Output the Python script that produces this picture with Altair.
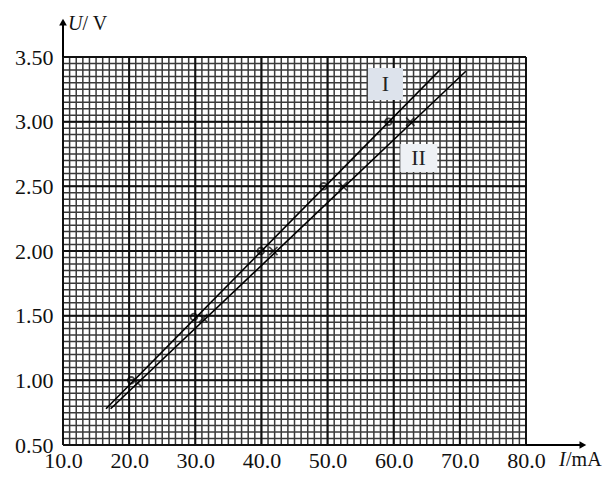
import altair as alt
import pandas as pd

# ---- data ----
x_ticks = [10.0, 20.0, 30.0, 40.0, 50.0, 60.0, 70.0, 80.0]
y_ticks = [0.50, 1.00, 1.50, 2.00, 2.50, 3.00, 3.50]
x_minor = [10 + i for i in range(71)]            # 1 mA grid
y_minor = [round(0.5 + 0.05 * i, 2) for i in range(61)]  # 0.05 V grid

I_x = [20.3, 29.8, 39.9, 49.4, 59.2]
I_y = [1.00, 1.49, 2.00, 2.50, 3.00]
II_x = [21.3, 31.2, 41.8, 52.3, 62.5]
II_y = [0.98, 1.48, 2.00, 2.50, 3.00]

lineI_x = [16.5, 67.0]
lineI_y = [0.78, 3.40]
lineII_x = [17.2, 70.9]
lineII_y = [0.78, 3.39]

# label boxes (I, II)
box_x1 = [56.1, 61.0]
box_x2 = [61.4, 66.6]
box_y1 = [3.415, 2.827]
box_y2 = [3.168, 2.611]
box_fill = ["#dde3ec", "#eef1f5"]
box_text = ["I", "II"]
box_tx = [58.76, 63.75]
box_ty = [3.29, 2.72]

SERIF = "Liberation Serif"
XS = alt.Scale(domain=[10, 80], nice=False, zero=False)
YS = alt.Scale(domain=[0.5, 3.5], nice=False, zero=False)

# grid
minor_v = alt.Chart(pd.DataFrame({"x": x_minor})).mark_rule(
    color="#3a3a3a", strokeWidth=1.5).encode(x=alt.X("x:Q", scale=XS))
minor_h = alt.Chart(pd.DataFrame({"y": y_minor})).mark_rule(
    color="#3a3a3a", strokeWidth=1.5).encode(y=alt.Y("y:Q", scale=YS))
major_v = alt.Chart(pd.DataFrame({"x": x_ticks})).mark_rule(
    color="#111111", strokeWidth=2.0).encode(x=alt.X("x:Q", scale=XS))
major_h = alt.Chart(pd.DataFrame({"y": y_ticks})).mark_rule(
    color="#111111", strokeWidth=2.0).encode(y=alt.Y("y:Q", scale=YS))

# axes (labels only)
axes = alt.Chart(pd.DataFrame({"x": [10.0], "y": [0.5]})).mark_point(opacity=0).encode(
    x=alt.X("x:Q", scale=XS, axis=alt.Axis(
        values=x_ticks, format=".1f", title=None, grid=False, ticks=False,
        domain=False, labelFont=SERIF, labelFontSize=22, labelColor="#111",
        labelPadding=5, labelFlush=False, labelOverlap=False)),
    y=alt.Y("y:Q", scale=YS, axis=alt.Axis(
        values=y_ticks, format=".2f", title=None, grid=False, ticks=False,
        domain=False, labelFont=SERIF, labelFontSize=22, labelColor="#111",
        labelPadding=10, labelFlush=False, labelOverlap=False)),
)

# label boxes
bdf = pd.DataFrame({"x1": box_x1, "x2": box_x2, "y1": box_y1, "y2": box_y2,
                    "fill": box_fill, "t": box_text, "tx": box_tx, "ty": box_ty})
boxes = alt.Chart(bdf).mark_rect().encode(
    x=alt.X("x1:Q", scale=XS), x2="x2:Q",
    y=alt.Y("y1:Q", scale=YS), y2="y2:Q",
    color=alt.Color("fill:N", scale=None))
box_labels = alt.Chart(bdf).mark_text(font=SERIF, fontSize=22, color="#222").encode(
    x=alt.X("tx:Q", scale=XS), y=alt.Y("ty:Q", scale=YS), text="t:N")

# fitted lines
ldf = pd.DataFrame({"x": lineI_x + lineII_x, "y": lineI_y + lineII_y,
                    "s": ["I"] * 2 + ["II"] * 2})
lines = alt.Chart(ldf).mark_line(color="black", strokeWidth=1.6).encode(
    x=alt.X("x:Q", scale=XS), y=alt.Y("y:Q", scale=YS), detail="s:N")

pI = alt.Chart(pd.DataFrame({"x": I_x, "y": I_y})).mark_point(
    shape="circle", filled=False, color="black", size=45, strokeWidth=1.8).encode(
    x=alt.X("x:Q", scale=XS), y=alt.Y("y:Q", scale=YS))
pII = alt.Chart(pd.DataFrame({"x": II_x, "y": II_y})).mark_point(
    shape="M-1,-1L1,1M-1,1L1,-1", filled=False, color="black", size=70,
    strokeWidth=1.6).encode(
    x=alt.X("x:Q", scale=XS), y=alt.Y("y:Q", scale=YS))

# axis arrows
y_arrow = alt.Chart(pd.DataFrame({"x": [10.0], "y": [3.5], "y2": [3.77]})).mark_rule(
    color="black", strokeWidth=2).encode(
    x=alt.X("x:Q", scale=XS), y=alt.Y("y:Q", scale=YS), y2="y2:Q")
x_arrow = alt.Chart(pd.DataFrame({"x": [80.0], "x2": [88.6], "y": [0.5]})).mark_rule(
    color="black", strokeWidth=2).encode(
    x=alt.X("x:Q", scale=XS), x2="x2:Q", y=alt.Y("y:Q", scale=YS))
y_head = alt.Chart(pd.DataFrame({"x": [10.0], "y": [3.77]})).mark_point(
    shape="triangle-up", filled=True, color="black", size=60, opacity=1).encode(
    x=alt.X("x:Q", scale=XS), y=alt.Y("y:Q", scale=YS))
x_head = alt.Chart(pd.DataFrame({"x": [88.6], "y": [0.5]})).mark_point(
    shape="triangle-right", filled=True, color="black", size=60, opacity=1).encode(
    x=alt.X("x:Q", scale=XS), y=alt.Y("y:Q", scale=YS))

# axis titles
t_it = alt.Chart(pd.DataFrame({"x": [10.75, 85.0], "y": [3.755, 0.385], "t": ["U", "I"]})).mark_text(
    font=SERIF, fontSize=20, fontStyle="italic", align="left", color="#111").encode(
    x=alt.X("x:Q", scale=XS), y=alt.Y("y:Q", scale=YS), text="t:N")
t_rm = alt.Chart(pd.DataFrame({"x": [12.95, 86.05], "y": [3.755, 0.385], "t": ["/ V", "/mA"]})).mark_text(
    font=SERIF, fontSize=20, align="left", color="#111").encode(
    x=alt.X("x:Q", scale=XS), y=alt.Y("y:Q", scale=YS), text="t:N")

chart = alt.layer(
    minor_v, minor_h, major_v, major_h, axes, boxes, box_labels,
    lines, pI, pII, y_arrow, x_arrow, y_head, x_head, t_it, t_rm,
).properties(
    width=463, height=388,
    padding={"left": 55, "top": 49, "right": 80, "bottom": 26},
    autosize=alt.AutoSizeParams(type="none"),
).configure_view(stroke="black", strokeWidth=2).configure(background="white")

chart.save("out.html", embed_options={"renderer": "svg", "actions": False})
